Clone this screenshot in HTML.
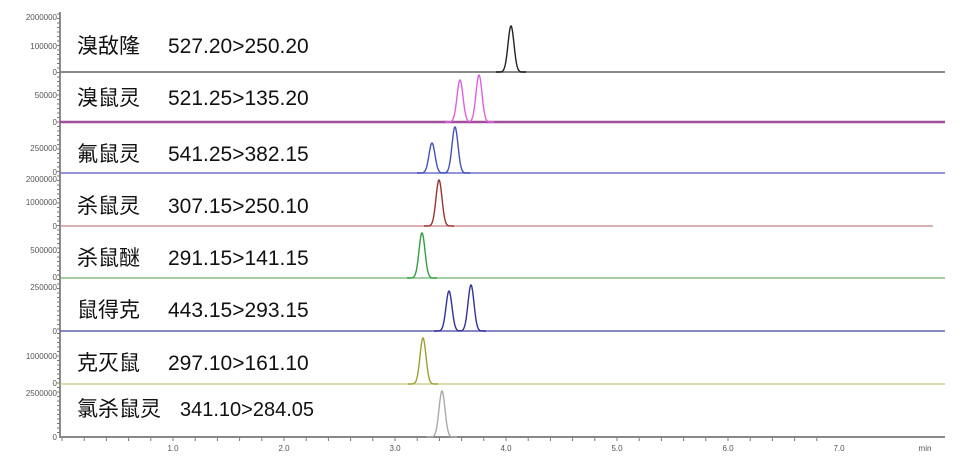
<!DOCTYPE html>
<html><head><meta charset="utf-8"><style>
html,body{margin:0;padding:0;background:#fff;}
svg{display:block}
.yl{font-family:"Liberation Sans",sans-serif;font-size:8px;fill:#555;text-anchor:end}
.xl{font-family:"Liberation Sans",sans-serif;font-size:8px;fill:#555;text-anchor:middle}
.cn{font-family:"Liberation Sans","Noto Sans CJK SC",sans-serif;font-size:21px;fill:#111}
.num{font-family:"Liberation Sans",sans-serif;font-size:21px;fill:#111}
</style></head><body>
<svg id="s" width="960" height="470" viewBox="0 0 960 470" xmlns="http://www.w3.org/2000/svg">
<line x1="60" y1="12" x2="60" y2="438" stroke="#666" stroke-width="1.5"/>
<line x1="60" y1="437" x2="945" y2="437" stroke="#888" stroke-width="2"/>
<g id="ticks"></g>
<g id="traces"></g>
<text class="yl" x="57" y="20">2000000</text>
<text class="yl" x="57" y="49">100000</text>
<text class="yl" x="57" y="75">0</text>
<text class="yl" x="57" y="98">50000</text>
<text class="yl" x="57" y="125">0</text>
<text class="yl" x="57" y="151">250000</text>
<text class="yl" x="57" y="175">0</text>
<text class="yl" x="57" y="182">2000000</text>
<text class="yl" x="57" y="205">1000000</text>
<text class="yl" x="57" y="229">0</text>
<text class="yl" x="57" y="253">500000</text>
<text class="yl" x="57" y="280">0</text>
<text class="yl" x="57" y="290">250000</text>
<text class="yl" x="57" y="334">0</text>
<text class="yl" x="57" y="359">1000000</text>
<text class="yl" x="57" y="386">0</text>
<text class="yl" x="57" y="396">2500000</text>
<text class="yl" x="57" y="440">0</text>
<text class="xl" x="173" y="451">1.0</text>
<text class="xl" x="284" y="451">2.0</text>
<text class="xl" x="395" y="451">3.0</text>
<text class="xl" x="506" y="451">4.0</text>
<text class="xl" x="617" y="451">5.0</text>
<text class="xl" x="728" y="451">6.0</text>
<text class="xl" x="839" y="451">7.0</text>
<text class="xl" x="925" y="451">min</text>
<text class="cn" x="77" y="53">溴敌隆</text><text class="num" x="168" y="53">527.20&gt;250.20</text>
<text class="cn" x="77" y="105">溴鼠灵</text><text class="num" x="168" y="105">521.25&gt;135.20</text>
<text class="cn" x="77" y="161">氟鼠灵</text><text class="num" x="168" y="161">541.25&gt;382.15</text>
<text class="cn" x="77" y="213">杀鼠灵</text><text class="num" x="168" y="213">307.15&gt;250.10</text>
<text class="cn" x="77" y="265">杀鼠醚</text><text class="num" x="168" y="265">291.15&gt;141.15</text>
<text class="cn" x="77" y="317">鼠得克</text><text class="num" x="168" y="317">443.15&gt;293.15</text>
<text class="cn" x="77" y="370">克灭鼠</text><text class="num" x="168" y="370">297.10&gt;161.10</text>
<text class="cn" x="77" y="416">氯杀鼠灵</text><text class="num" x="180" y="416" style="font-size:20px">341.10&gt;284.05</text>
</svg>
<script>
var NS="http://www.w3.org/2000/svg";
var tr=[
 [72,"#888","#222",[[511,46]],2,945],
 [122,"#a0509a","#e060e0",[[460,42],[479,47]],2.5,945],
 [173,"#7070d0","#4050c0",[[432,30],[455,46]],1.5,945],
 [226,"#c08080","#a03030",[[439,46]],1.2,933],
 [278,"#70b070","#30a040",[[422,45]],1.2,945],
 [331,"#6060b0","#3030a0",[[449,40],[471,46]],1.5,945],
 [384,"#c8c880","#a0a030",[[423,46]],1.2,945],
 [437,"#888","#aaa",[[442,46]],1.5,945]
];
var g=document.getElementById("traces");
tr.forEach(function(t){
 var bl=document.createElementNS(NS,"line");
 bl.setAttribute("x1",60);bl.setAttribute("x2",t[5]);bl.setAttribute("y1",t[0]);bl.setAttribute("y2",t[0]);
 bl.setAttribute("stroke",t[1]);bl.setAttribute("stroke-width",t[4]);g.appendChild(bl);
 var d="";var x0=t[3][0][0]-15,x1=t[3][t[3].length-1][0]+15;
 for(var x=x0;x<=x1;x+=0.5){var y=0;t[3].forEach(function(p){y+=p[1]*Math.exp(-Math.pow((x-p[0])/3,2)/2);});
  d+=(d?"L":"M")+x+" "+(t[0]-y).toFixed(2);}
 var p=document.createElementNS(NS,"path");p.setAttribute("d",d);p.setAttribute("fill","none");
 p.setAttribute("stroke",t[2]);p.setAttribute("stroke-width",1.4);g.appendChild(p);
});
var tk=document.getElementById("ticks");
for(var y=14;y<437;y+=4.5){var l=document.createElementNS(NS,"line");l.setAttribute("x1",57);l.setAttribute("x2",60);l.setAttribute("y1",y);l.setAttribute("y2",y);l.setAttribute("stroke","#777");tk.appendChild(l);}
for(var i=0;i<=34;i++){var x=62+i*22.2;if(x>945)break;var l=document.createElementNS(NS,"line");l.setAttribute("x1",x);l.setAttribute("x2",x);l.setAttribute("y1",437);l.setAttribute("y2",441);l.setAttribute("stroke","#777");tk.appendChild(l);}
</script>
</body></html>
